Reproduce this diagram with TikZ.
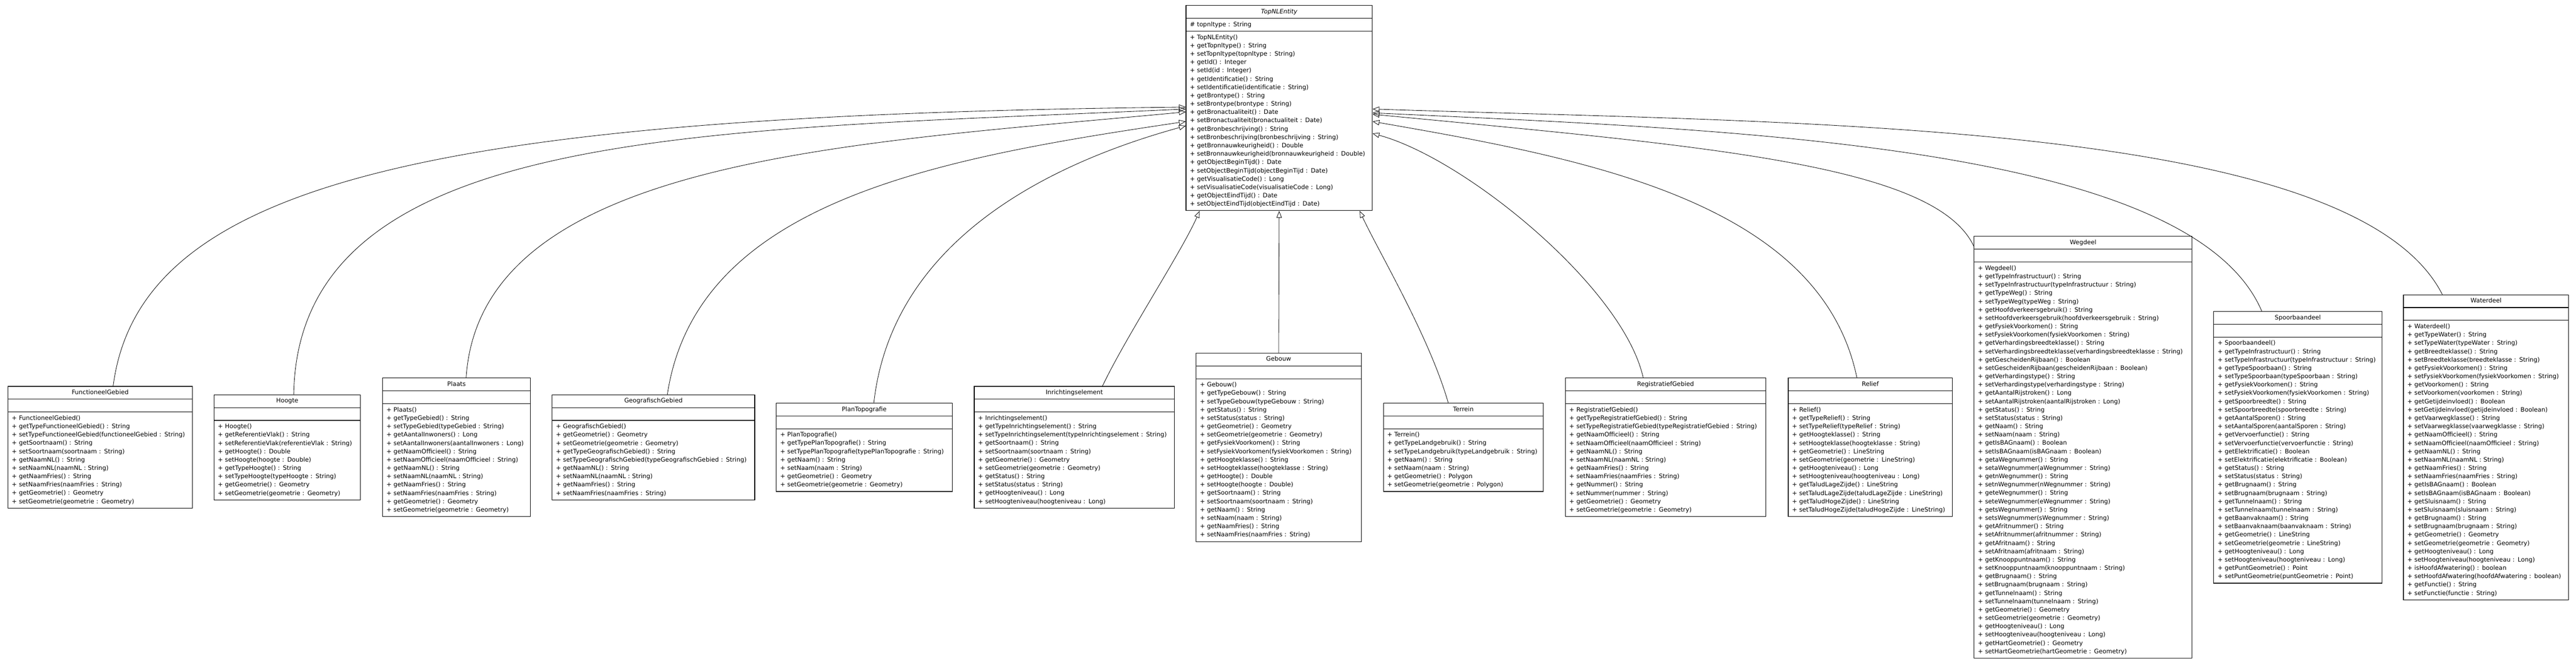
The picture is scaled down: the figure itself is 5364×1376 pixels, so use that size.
\documentclass[tikz,border=0pt]{standalone}
\usepackage{fontspec}
\setmainfont{DejaVu Sans}
\usetikzlibrary{shapes.multipart,arrows.meta}

\begin{document}
\begin{tikzpicture}[x=1pt,y=-1pt,
        font=\fontsize{12.7}{17.35}\selectfont,
        cls/.style={draw, rectangle split, rectangle split parts=3,
                        anchor=north west, align=left, line width=1.2pt,
                        inner xsep=8pt, inner ysep=4.07pt},
        inh/.style={line width=0.9pt,
                        -{Triangle[open,length=14pt,width=11pt]}}]
    \useasboundingbox (0,0) rectangle (5364,1376);

    % parent class
    \node[cls, text width=372pt] (entity) at (2469,11)
        {\centering\strut\textit{TopNLEntity}\par
        \nodepart{two}\strut \# topnltype : String
        \nodepart{three}\strut + TopNLEntity()\\
        + getTopnltype() : String\\
        + setTopnltype(topnltype : String)\\
        + getId() : Integer\\
        + setId(id : Integer)\\
        + getIdentificatie() : String\\
        + setIdentificatie(identificatie : String)\\
        + getBrontype() : String\\
        + setBrontype(brontype : String)\\
        + getBronactualiteit() : Date\\
        + setBronactualiteit(bronactualiteit : Date)\\
        + getBronbeschrijving() : String\\
        + setBronbeschrijving(bronbeschrijving : String)\\
        + getBronnauwkeurigheid() : Double\\
        + setBronnauwkeurigheid(bronnauwkeurigheid : Double)\\
        + getObjectBeginTijd() : Date\\
        + setObjectBeginTijd(objectBeginTijd : Date)\\
        + getVisualisatieCode() : Long\\
        + setVisualisatieCode(visualisatieCode : Long)\\
        + getObjectEindTijd() : Date\\
        + setObjectEindTijd(objectEindTijd : Date)\strut};

    % subclasses
    \node[cls, text width=368pt] (fg) at (16,804)
        {\centering\strut FunctioneelGebied\par
        \nodepart{two}\strut
        \nodepart{three}\strut + FunctioneelGebied()\\
        + getTypeFunctioneelGebied() : String\\
        + setTypeFunctioneelGebied(functioneelGebied : String)\\
        + getSoortnaam() : String\\
        + setSoortnaam(soortnaam : String)\\
        + getNaamNL() : String\\
        + setNaamNL(naamNL : String)\\
        + getNaamFries() : String\\
        + setNaamFries(naamFries : String)\\
        + getGeometrie() : Geometry\\
        + setGeometrie(geometrie : Geometry)\strut};

    \node[cls, text width=289pt] (hoogte) at (445,821.4)
        {\centering\strut Hoogte\par
        \nodepart{two}\strut
        \nodepart{three}\strut + Hoogte()\\
        + getReferentieVlak() : String\\
        + setReferentieVlak(referentieVlak : String)\\
        + getHoogte() : Double\\
        + setHoogte(hoogte : Double)\\
        + getTypeHoogte() : String\\
        + setTypeHoogte(typeHoogte : String)\\
        + getGeometrie() : Geometry\\
        + setGeometrie(geometrie : Geometry)\strut};

    \node[cls, text width=292pt] (plaats) at (796,786.7)
        {\centering\strut Plaats\par
        \nodepart{two}\strut
        \nodepart{three}\strut + Plaats()\\
        + getTypeGebied() : String\\
        + setTypeGebied(typeGebied : String)\\
        + getAantalInwoners() : Long\\
        + setAantalInwoners(aantalInwoners : Long)\\
        + getNaamOfficieel() : String\\
        + setNaamOfficieel(naamOfficieel : String)\\
        + getNaamNL() : String\\
        + setNaamNL(naamNL : String)\\
        + getNaamFries() : String\\
        + setNaamFries(naamFries : String)\\
        + getGeometrie() : Geometry\\
        + setGeometrie(geometrie : Geometry)\strut};

    \node[cls, text width=406pt] (geo) at (1149,821.4)
        {\centering\strut GeografischGebied\par
        \nodepart{two}\strut
        \nodepart{three}\strut + GeografischGebied()\\
        + getGeometrie() : Geometry\\
        + setGeometrie(geometrie : Geometry)\\
        + getTypeGeografischGebied() : String\\
        + setTypeGeografischGebied(typeGeografischGebied : String)\\
        + getNaamNL() : String\\
        + setNaamNL(naamNL : String)\\
        + getNaamFries() : String\\
        + setNaamFries(naamFries : String)\strut};

    \node[cls, text width=350pt] (plan) at (1616,838.7)
        {\centering\strut PlanTopografie\par
        \nodepart{two}\strut
        \nodepart{three}\strut + PlanTopografie()\\
        + getTypePlanTopografie() : String\\
        + setTypePlanTopografie(typePlanTopografie : String)\\
        + getNaam() : String\\
        + setNaam(naam : String)\\
        + getGeometrie() : Geometry\\
        + setGeometrie(geometrie : Geometry)\strut};

    \node[cls, text width=401pt] (inr) at (2028,804)
        {\centering\strut Inrichtingselement\par
        \nodepart{two}\strut
        \nodepart{three}\strut + Inrichtingselement()\\
        + getTypeInrichtingselement() : String\\
        + setTypeInrichtingselement(typeInrichtingselement : String)\\
        + getSoortnaam() : String\\
        + setSoortnaam(soortnaam : String)\\
        + getGeometrie() : Geometry\\
        + setGeometrie(geometrie : Geometry)\\
        + getStatus() : String\\
        + setStatus(status : String)\\
        + getHoogteniveau() : Long\\
        + setHoogteniveau(hoogteniveau : Long)\strut};

    \node[cls, text width=328pt] (gebouw) at (2490,734.6)
        {\centering\strut Gebouw\par
        \nodepart{two}\strut
        \nodepart{three}\strut + Gebouw()\\
        + getTypeGebouw() : String\\
        + setTypeGebouw(typeGebouw : String)\\
        + getStatus() : String\\
        + setStatus(status : String)\\
        + getGeometrie() : Geometry\\
        + setGeometrie(geometrie : Geometry)\\
        + getFysiekVoorkomen() : String\\
        + setFysiekVoorkomen(fysiekVoorkomen : String)\\
        + getHoogteklasse() : String\\
        + setHoogteklasse(hoogteklasse : String)\\
        + getHoogte() : Double\\
        + setHoogte(hoogte : Double)\\
        + getSoortnaam() : String\\
        + setSoortnaam(soortnaam : String)\\
        + getNaam() : String\\
        + setNaam(naam : String)\\
        + getNaamFries() : String\\
        + setNaamFries(naamFries : String)\strut};

    \node[cls, text width=317pt] (terrein) at (2880,838.7)
        {\centering\strut Terrein\par
        \nodepart{two}\strut
        \nodepart{three}\strut + Terrein()\\
        + getTypeLandgebruik() : String\\
        + setTypeLandgebruik(typeLandgebruik : String)\\
        + getNaam() : String\\
        + setNaam(naam : String)\\
        + getGeometrie() : Polygon\\
        + setGeometrie(geometrie : Polygon)\strut};

    \node[cls, text width=401pt] (reg) at (3259,786.7)
        {\centering\strut RegistratiefGebied\par
        \nodepart{two}\strut
        \nodepart{three}\strut + RegistratiefGebied()\\
        + getTypeRegistratiefGebied() : String\\
        + setTypeRegistratiefGebied(typeRegistratiefGebied : String)\\
        + getNaamOfficieel() : String\\
        + setNaamOfficieel(naamOfficieel : String)\\
        + getNaamNL() : String\\
        + setNaamNL(naamNL : String)\\
        + getNaamFries() : String\\
        + setNaamFries(naamFries : String)\\
        + getNummer() : String\\
        + setNummer(nummer : String)\\
        + getGeometrie() : Geometry\\
        + setGeometrie(geometrie : Geometry)\strut};

    \node[cls, text width=326pt] (relief) at (3723,786.7)
        {\centering\strut Relief\par
        \nodepart{two}\strut
        \nodepart{three}\strut + Relief()\\
        + getTypeRelief() : String\\
        + setTypeRelief(typeRelief : String)\\
        + getHoogteklasse() : String\\
        + setHoogteklasse(hoogteklasse : String)\\
        + getGeometrie() : LineString\\
        + setGeometrie(geometrie : LineString)\\
        + getHoogteniveau() : Long\\
        + setHoogteniveau(hoogteniveau : Long)\\
        + getTaludLageZijde() : LineString\\
        + setTaludLageZijde(taludLageZijde : LineString)\\
        + getTaludHogeZijde() : LineString\\
        + setTaludHogeZijde(taludHogeZijde : LineString)\strut};

    \node[cls, text width=438pt] (weg) at (4110,491.7)
        {\centering\strut Wegdeel\par
        \nodepart{two}\strut
        \nodepart{three}\strut + Wegdeel()\\
        + getTypeInfrastructuur() : String\\
        + setTypeInfrastructuur(typeInfrastructuur : String)\\
        + getTypeWeg() : String\\
        + setTypeWeg(typeWeg : String)\\
        + getHoofdverkeersgebruik() : String\\
        + setHoofdverkeersgebruik(hoofdverkeersgebruik : String)\\
        + getFysiekVoorkomen() : String\\
        + setFysiekVoorkomen(fysiekVoorkomen : String)\\
        + getVerhardingsbreedteklasse() : String\\
        + setVerhardingsbreedteklasse(verhardingsbreedteklasse : String)\\
        + getGescheidenRijbaan() : Boolean\\
        + setGescheidenRijbaan(gescheidenRijbaan : Boolean)\\
        + getVerhardingstype() : String\\
        + setVerhardingstype(verhardingstype : String)\\
        + getAantalRijstroken() : Long\\
        + setAantalRijstroken(aantalRijstroken : Long)\\
        + getStatus() : String\\
        + setStatus(status : String)\\
        + getNaam() : String\\
        + setNaam(naam : String)\\
        + getIsBAGnaam() : Boolean\\
        + setIsBAGnaam(isBAGnaam : Boolean)\\
        + getaWegnummer() : String\\
        + setaWegnummer(aWegnummer : String)\\
        + getnWegnummer() : String\\
        + setnWegnummer(nWegnummer : String)\\
        + geteWegnummer() : String\\
        + seteWegnummer(eWegnummer : String)\\
        + getsWegnummer() : String\\
        + setsWegnummer(sWegnummer : String)\\
        + getAfritnummer() : String\\
        + setAfritnummer(afritnummer : String)\\
        + getAfritnaam() : String\\
        + setAfritnaam(afritnaam : String)\\
        + getKnooppuntnaam() : String\\
        + setKnooppuntnaam(knooppuntnaam : String)\\
        + getBrugnaam() : String\\
        + setBrugnaam(brugnaam : String)\\
        + getTunnelnaam() : String\\
        + setTunnelnaam(tunnelnaam : String)\\
        + getGeometrie() : Geometry\\
        + setGeometrie(geometrie : Geometry)\\
        + getHoogteniveau() : Long\\
        + setHoogteniveau(hoogteniveau : Long)\\
        + getHartGeometrie() : Geometry\\
        + setHartGeometrie(hartGeometrie : Geometry)\strut};

    \node[cls, text width=334pt] (spoor) at (4609,647.9)
        {\centering\strut Spoorbaandeel\par
        \nodepart{two}\strut
        \nodepart{three}\strut + Spoorbaandeel()\\
        + getTypeInfrastructuur() : String\\
        + setTypeInfrastructuur(typeInfrastructuur : String)\\
        + getTypeSpoorbaan() : String\\
        + setTypeSpoorbaan(typeSpoorbaan : String)\\
        + getFysiekVoorkomen() : String\\
        + setFysiekVoorkomen(fysiekVoorkomen : String)\\
        + getSpoorbreedte() : String\\
        + setSpoorbreedte(spoorbreedte : String)\\
        + getAantalSporen() : String\\
        + setAantalSporen(aantalSporen : String)\\
        + getVervoerfunctie() : String\\
        + setVervoerfunctie(vervoerfunctie : String)\\
        + getElektrificatie() : Boolean\\
        + setElektrificatie(elektrificatie : Boolean)\\
        + getStatus() : String\\
        + setStatus(status : String)\\
        + getBrugnaam() : String\\
        + setBrugnaam(brugnaam : String)\\
        + getTunnelnaam() : String\\
        + setTunnelnaam(tunnelnaam : String)\\
        + getBaanvaknaam() : String\\
        + setBaanvaknaam(baanvaknaam : String)\\
        + getGeometrie() : LineString\\
        + setGeometrie(geometrie : LineString)\\
        + getHoogteniveau() : Long\\
        + setHoogteniveau(hoogteniveau : Long)\\
        + getPuntGeometrie() : Point\\
        + setPuntGeometrie(puntGeometrie : Point)\strut};

    \node[cls, text width=328pt] (water) at (5004,613.2)
        {\centering\strut Waterdeel\par
        \nodepart{two}\strut
        \nodepart{three}\strut + Waterdeel()\\
        + getTypeWater() : String\\
        + setTypeWater(typeWater : String)\\
        + getBreedteklasse() : String\\
        + setBreedteklasse(breedteklasse : String)\\
        + getFysiekVoorkomen() : String\\
        + setFysiekVoorkomen(fysiekVoorkomen : String)\\
        + getVoorkomen() : String\\
        + setVoorkomen(voorkomen : String)\\
        + getGetijdeinvloed() : Boolean\\
        + setGetijdeinvloed(getijdeinvloed : Boolean)\\
        + getVaarwegklasse() : String\\
        + setVaarwegklasse(vaarwegklasse : String)\\
        + getNaamOfficieel() : String\\
        + setNaamOfficieel(naamOfficieel : String)\\
        + getNaamNL() : String\\
        + setNaamNL(naamNL : String)\\
        + getNaamFries() : String\\
        + setNaamFries(naamFries : String)\\
        + getIsBAGnaam() : Boolean\\
        + setIsBAGnaam(isBAGnaam : Boolean)\\
        + getSluisnaam() : String\\
        + setSluisnaam(sluisnaam : String)\\
        + getBrugnaam() : String\\
        + setBrugnaam(brugnaam : String)\\
        + getGeometrie() : Geometry\\
        + setGeometrie(geometrie : Geometry)\\
        + getHoogteniveau() : Long\\
        + setHoogteniveau(hoogteniveau : Long)\\
        + isHoofdAfwatering() : boolean\\
        + setHoofdAfwatering(hoofdAfwatering : boolean)\\
        + getFunctie() : String\\
        + setFunctie(functie : String)\strut};

    % generalisations
    \draw[inh] ([xshift=27pt]fg.north) .. controls +(55,-424) and +(-1569,17) .. ([yshift=-212pt]entity.north west);
    \draw[inh] ([xshift=13.5pt]hoogte.north) .. controls +(9,-561) and +(-1000,46) .. ([yshift=-216pt]entity.north west);
    \draw[inh] ([xshift=20pt]plaats.north) .. controls +(30,-457) and +(-700,66) .. ([yshift=-222pt]entity.north west);
    \draw[inh] ([xshift=29pt]geo.north) .. controls +(61,-402) and +(-519,77) .. ([yshift=-242pt]entity.north west);
    \draw[inh] ([xshift=20pt]plan.north) .. controls +(36,-319) and +(-319,88) .. ([yshift=-251pt]entity.north west);
    \draw[inh] ([xshift=58.5pt]inr.north) .. controls +(50,-105) and +(-38,86) .. ([xshift=29pt]entity.south west);
    \draw[inh] (gebouw.north) -- (entity.south);
    \draw[inh] ([xshift=-31.5pt]terrein.north) .. controls +(-40,-139) and +(40,86) .. ([xshift=-27pt]entity.south east);
    \draw[inh] ([xshift=-46.5pt]reg.north) .. controls +(-41,-187) and +(193,52) .. ([yshift=-267pt]entity.north east);
    \draw[inh] ([xshift=-28pt]relief.north) .. controls +(-76,-367) and +(443,77) .. ([yshift=-242pt]entity.north east);
    \draw[inh] ([yshift=-21pt]weg.north west) .. controls +(-80,-170) and +(700,67) .. ([yshift=-227pt]entity.north east);
    \draw[inh] ([xshift=-75pt]spoor.north) .. controls +(-149,-349) and +(743,35) .. ([yshift=-224pt]entity.north east);
    \draw[inh] ([xshift=-91pt]water.north) .. controls +(-185,-363) and +(900,30) .. ([yshift=-216pt]entity.north east);
\end{tikzpicture}
\end{document}
